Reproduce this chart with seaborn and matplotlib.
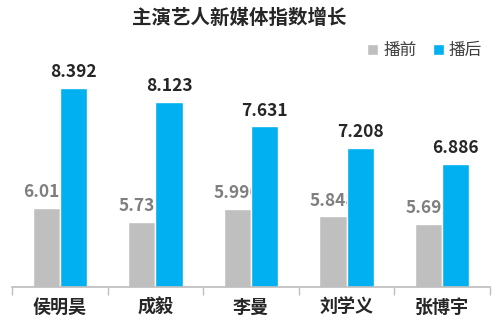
import numpy as np
import pandas as pd
import matplotlib
matplotlib.use("Agg")
import matplotlib.pyplot as plt
import seaborn as sns

sns.set_theme(style="white")
plt.rcParams['font.family'] = ['Noto Sans CJK SC', 'DejaVu Sans']

# 数据
names = ['侯明昊', '成毅', '李曼', '刘学义', '张博宇']
before = [6.013, 5.738, 5.996, 5.848, 5.692]
after = [8.392, 8.123, 7.631, 7.208, 6.886]
series = ['播前', '播后']

df = pd.DataFrame({
    'name': names * 2,
    'value': before + after,
    'stage': [series[0]] * len(names) + [series[1]] * len(names),
})

fig = plt.figure(figsize=(5, 3.28), dpi=100)
ax = fig.add_axes([0.024, 0.125, 0.956, 0.72])

sns.barplot(data=df, x='name', y='value', hue='stage', order=names, hue_order=series,
            palette=['#bfbfbf', '#00b0f0'], width=0.57, saturation=1, errorbar=None, ax=ax)

ax.set_ylim(4.45, 9.13)
ax.set_xlim(-0.5, 4.5)

# 数值标签
ax.bar_label(ax.containers[0], fmt='%.3f', padding=5, fontsize=12.5, fontweight='bold',
             color='#7f7f7f', zorder=1.5)
ax.bar_label(ax.containers[1], fmt='%.3f', padding=5, fontsize=12.5, fontweight='bold',
             color='#262626')
for p in ax.containers[1]:
    p.set_zorder(2)

# 坐标轴
for s in ['top', 'right', 'left']:
    ax.spines[s].set_visible(False)
ax.spines['bottom'].set_color('#bfbfbf')
ax.set_yticks([])
ax.set_xlabel('')
ax.set_ylabel('')
ax.set_xticks(np.arange(-0.5, 5), minor=True)
ax.tick_params(axis='x', which='major', length=0, pad=8, labelsize=13)
ax.tick_params(axis='x', which='minor', length=6, color='#bfbfbf', bottom=True)
for t in ax.get_xticklabels():
    t.set_fontweight('bold')
    t.set_color('#262626')

# 图例
leg = ax.legend(loc='center right', bbox_to_anchor=(1.015, 1.0), ncol=2, frameon=False,
                fontsize=12, handlelength=0.65, handleheight=0.65, handletextpad=0.3,
                columnspacing=1.0)
for t in leg.get_texts():
    t.set_color('#404040')

fig.text(0.478, 0.945, '主演艺人新媒体指数增长', ha='center', va='center',
         fontsize=14, fontweight='bold', color='#262626')

fig.savefig('out.png', dpi=100)
